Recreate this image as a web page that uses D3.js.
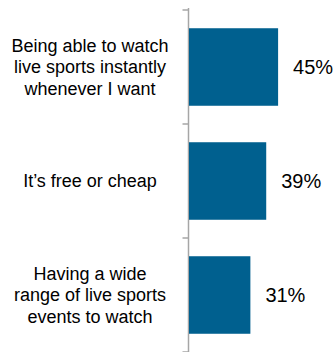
<!DOCTYPE html>
<html>
<head>
  <meta charset="utf-8">
  <style>
    body { margin: 0; background: #fff; }
    text { font-family: "Liberation Sans", Arial, sans-serif; fill: #000; }
    .bar { fill: #00608F; }
    .axis line, .axis path { stroke: #a6a6a6; stroke-width: 1.5; }
  </style>
</head>
<body>
  <script src="https://d3js.org/d3.v7.min.js"></script>
  <script>
    // data
    var categories = [
      ["Being able to watch", "live sports instantly", "whenever I want"],
      ["It\u2019s free or cheap"],
      ["Having a wide", "range of live sports", "events to watch"]
    ];
    var values = [45, 39, 31];
    var valueLabels = ["45%", "39%", "31%"];

    var width = 336, height = 352;
    var axisX = 188.5;

    var svg = d3.select("body").append("svg")
        .attr("width", width)
        .attr("height", height);

    var ids = d3.range(categories.length);

    var y = d3.scaleBand()
        .domain(ids)
        .range([10, 352])
        .paddingInner(0.32)
        .paddingOuter(0.16);

    var x = d3.scaleLinear()
        .domain([0, 100])
        .range([axisX + 0.5, axisX + 0.5 + 198]);

    // axis line + ticks between categories
    var step = y.step();
    var axis = svg.append("g").attr("class", "axis");
    axis.append("line")
        .attr("x1", axisX).attr("x2", axisX)
        .attr("y1", 8).attr("y2", height);
    axis.selectAll(".tick")
      .data(d3.range(categories.length + 1))
      .enter().append("line")
        .attr("x1", axisX - 6).attr("x2", axisX)
        .attr("y1", function(i) { return 10 + i * step; })
        .attr("y2", function(i) { return 10 + i * step; });

    svg.selectAll(".bar")
      .data(ids)
      .enter().append("rect")
        .attr("class", "bar")
        .attr("x", x(0))
        .attr("y", function(i) { return y(i); })
        .attr("width", function(i) { return x(values[i]) - x(0); })
        .attr("height", y.bandwidth());

    svg.selectAll(".val")
      .data(ids)
      .enter().append("text")
        .attr("class", "val")
        .attr("x", function(i) { return x(values[i]) + 15; })
        .attr("y", function(i) { return y(i) + y.bandwidth() / 2; })
        .attr("dy", "0.36em")
        .style("font-size", "20px")
        .text(function(i) { return valueLabels[i]; });

    var cat = svg.selectAll(".cat")
      .data(ids)
      .enter().append("text")
        .attr("class", "cat")
        .attr("text-anchor", "middle")
        .style("font-size", "18px");
    cat.each(function(i) {
      var lines = categories[i];
      var cy = y(i) + y.bandwidth() / 2;
      d3.select(this).selectAll("tspan")
        .data(lines)
        .enter().append("tspan")
          .attr("x", 90)
          .attr("y", function(d, k) { return cy + (k - (lines.length - 1) / 2) * 21.5; })
          .attr("dy", "0.36em")
          .text(function(d) { return d; });
    });
  </script>
</body>
</html>
